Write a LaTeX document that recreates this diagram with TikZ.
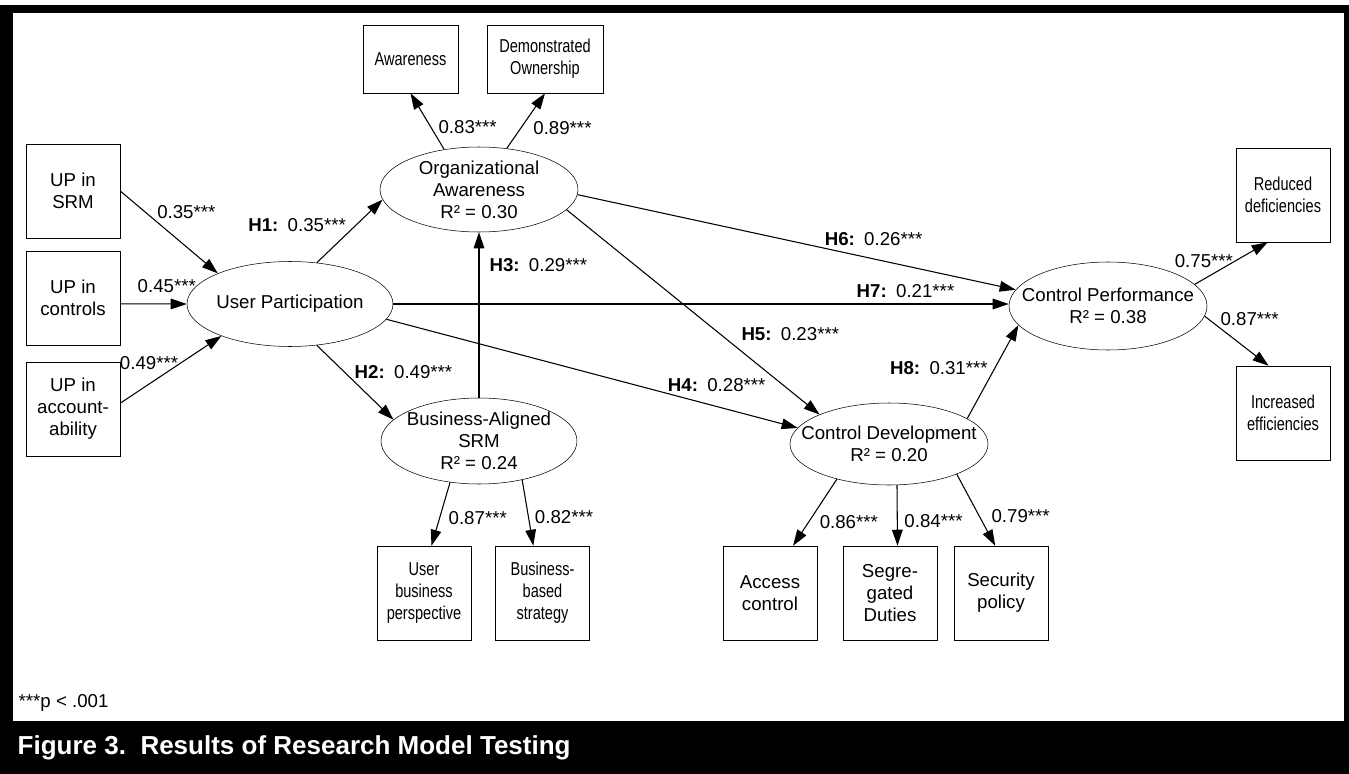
\documentclass[tikz,border=0pt]{standalone}
\usepackage{fontspec}
\setmainfont{Liberation Sans}
\newfontfamily\narrowfont[FakeStretch=0.78]{Liberation Sans}
\usetikzlibrary{shapes.geometric,arrows.meta}

\tikzset{
  obs/.style={draw, rectangle, minimum width=70.5pt, minimum height=70.5pt, inner sep=0pt, align=center},
  small/.style={obs, minimum width=71.25pt, minimum height=51pt},
  narrow/.style={font=\narrowfont\fontsize{14}{16.5}\selectfont},
  latent/.style={draw, ellipse, inner sep=0pt, minimum width=148.5pt},
  coef/.style={inner sep=1pt},
  link/.style={-{Triangle[length=12pt,width=8pt]}, line width=0.8pt}
}

\begin{document}
\begin{tikzpicture}[x=0.75pt, y=-0.75pt, font=\fontsize{14}{16.5}\selectfont, every label/.style={align=center}]
			\useasboundingbox (0,0) rectangle (1349,774);
			\fill[black] (0,5) rectangle (1349,774);
			\fill[white] (13,13) rectangle (1344,721);

			% indicators
			\node[small, narrow] (aw) at (410.5,59) {Awareness};
			\node[small, narrow, minimum width=87pt] (do) at (545,59) {Demonstrated\\Ownership};
			\node[obs] (upsrm) at (73,191) {UP in\\SRM};
			\node[obs] (upctl) at (73,298) {UP in\\controls};
			\node[obs] (upacc) at (73,409) {UP in\\account-\\ability};
			\node[obs, narrow] (ubp) at (424,593) {User\\business\\perspective};
			\node[obs, narrow] (bbs) at (542.5,593) {Business-\\based\\strategy};
			\node[obs] (ac) at (770,593) {Access\\control};
			\node[obs] (sd) at (890,593) {Segre-\\gated\\Duties};
			\node[obs] (sp) at (1001,593) {Security\\policy};
			\node[obs, narrow] (rd) at (1283,195) {Reduced\\deficiencies};
			\node[obs, narrow] (ie) at (1283,413) {Increased\\efficiencies};

			% constructs
			\node[latent, minimum width=154.5pt, minimum height=63.75pt, label={center:User Participation}] (up) at (290,304) {};
			\node[latent, minimum height=63.75pt, label={center:Organizational\\Awareness\\R² = 0.30}] (oa) at (479,189.5) {};
			\node[latent, minimum width=147pt, minimum height=64.5pt, label={center:Business-Aligned\\SRM\\R² = 0.24}] (bas) at (479,441) {};
			\node[latent, minimum height=61.5pt, label={center:Control Development\\R² = 0.20}] (cd) at (889,444) {};
			\node[latent, minimum height=66pt, label={center:Control Performance\\R² = 0.38}] (cp) at (1108,306) {};

			% formative and reflective paths
			\draw[link] (upsrm.east) -- node[coef, pos=0.36, anchor=south west] {0.35***} (up.157);
			\draw[link] (upctl.-7) -- node[coef, pos=0.7, above=7pt] {0.45***} (up.west);
			\draw[link] (upacc.7) -- node[coef, pos=0.59, anchor=east] {0.49***} (up.205);
			\draw[link] (oa.131) -- node[coef, pos=0.4, anchor=west, xshift=4.5pt] {0.83***} (aw.south);
			\draw[link] (oa.56) -- node[coef, pos=0.37, anchor=west, xshift=8pt] {0.89***} (do.south);
			\draw[link] (bas.235) -- node[coef, pos=0.57, anchor=west, xshift=5.5pt] {0.87***} (ubp.81);
			\draw[link] (bas.-42) -- node[coef, pos=0.56, anchor=west, xshift=3.5pt] {0.82***} (bbs.101);
			\draw[link] (cd.214) -- node[coef, pos=0.64, anchor=west, xshift=6.8pt] {0.86***} (ac.64);
			\draw[link] (cd.-79) -- node[coef, pos=0.6, anchor=west, xshift=4pt] {0.84***} (sd.81);
			\draw[link] (cd.-24) -- node[coef, pos=0.58, anchor=west, xshift=8pt] {0.79***} (sp.97);
			\draw[link] (cp.14) -- node[coef, pos=0.55, anchor=east] {0.75***} (rd.-108);
			\draw[link] (cp.-6) -- node[coef, pos=0.22, anchor=south west] {0.87***} (ie.107);

			% hypotheses
			\draw[link] (up.57) -- node[coef, pos=0.47, anchor=south east] {\textbf{H1:}\enspace 0.35***} (oa.186);
			\draw[link] (up.-57) -- node[coef, pos=0.47, anchor=south west] {\textbf{H2:}\enspace 0.49***} (bas.166);
			\draw[link] (bas.north) -- node[coef, pos=0.8, right=6.5pt] {\textbf{H3:}\enspace 0.29***} (oa.south);
			\draw[link] (up.-9) -- node[coef, pos=0.68, anchor=south west] {\textbf{H4:}\enspace 0.28***} (cd.170);
			\draw[link] (oa.-13) -- node[coef, pos=0.65, anchor=south west, xshift=6.5pt] {\textbf{H5:}\enspace 0.23***} (cd.157);
			\draw[link] (oa.-3) -- node[coef, pos=0.56, anchor=south west] {\textbf{H6:}\enspace 0.26***} (cp.170);
			\draw[link] (up.east) -- node[coef, pos=0.75, anchor=south west, yshift=3pt] {\textbf{H7:}\enspace 0.21***} (up.east -| cp.west);
			\draw[link] (cd.18) -- node[coef, pos=0.54, anchor=east, xshift=-4pt] {\textbf{H8:}\enspace 0.31***} (cp.192);

			\node[anchor=west] (note) at (14,703) {***p < .001};
			\node[anchor=west, text=white, font=\bfseries\fontsize{19.5}{22}\selectfont] (caption) at (13,748) {Figure 3.\ \ Results of Research Model Testing};
		\end{tikzpicture}
\end{document}
